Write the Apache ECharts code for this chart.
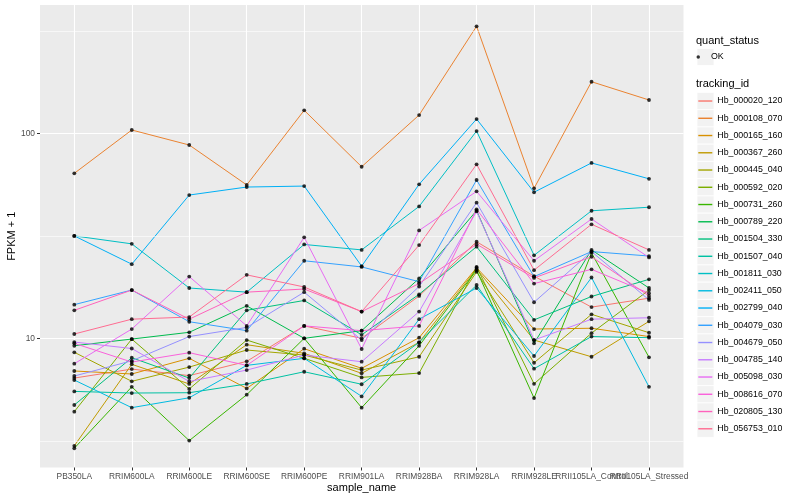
<!DOCTYPE html>
<html><head><meta charset="utf-8">
<script src="https://cdn.jsdelivr.net/npm/echarts@6/dist/echarts.min.js"></script>
<style>html,body{margin:0;padding:0;background:#fff}#c{width:800px;height:500px}</style>
</head><body><div id="c"></div>
<script>
const sampleNames = ['PB350LA','RRIM600LA','RRIM600LE','RRIM600SE','RRIM600PE','RRIM901LA','RRIM928BA','RRIM928LA','RRIM928LE','RRII105LA_Control','RRII105LA_Stressed'];
const trackingIds = ['Hb_000020_120','Hb_000108_070','Hb_000165_160','Hb_000367_260','Hb_000445_040','Hb_000592_020','Hb_000731_260','Hb_000789_220','Hb_001504_330','Hb_001507_040','Hb_001811_030','Hb_002411_050','Hb_002799_040','Hb_004079_030','Hb_004679_050','Hb_004785_140','Hb_005098_030','Hb_008616_070','Hb_020805_130','Hb_056753_010'];
const trackingColors = ['#F8766D','#EA8331','#D89000','#C09B00','#A3A500','#7CAE00','#39B600','#00BB4E','#00BF7D','#00C1A3','#00BFC4','#00BAE0','#00B0F6','#35A2FF','#9590FF','#C77CFF','#E76BF3','#FA62DB','#FF62BC','#FF6C91'];
const yTickValues = [10, 100];
const yMinorBreaks = [3.162, 31.62, 316.2];
const yRange = [2.344, 422.6];

const Hb_000020_120 = [6.40, 7.08, 6.58, 7.72, 11.5, 10.0, 16.1, 29.6, 20.1, 14.2, 15.7];
const Hb_000108_070 = [63.8, 103.8, 87.7, 56.0, 129.5, 68.7, 122.8, 332.7, 53.9, 178.5, 145.4];
const Hb_000165_160 = [6.93, 6.70, 7.99, 5.70, 8.90, 7.14, 10.07, 22.1, 11.1, 11.2, 10.2];
const Hb_000367_260 = [2.99, 7.47, 5.99, 9.31, 8.45, 6.75, 9.56, 21.8, 9.81, 8.13, 12.1];
const Hb_000445_040 = [8.55, 6.17, 7.24, 8.77, 8.29, 7.00, 8.13, 21.1, 7.60, 13.1, 10.65];
const Hb_000592_020 = [4.39, 9.92, 5.66, 9.81, 7.99, 6.45, 6.77, 22.3, 6.00, 10.6, 17.2];
const Hb_000731_260 = [2.91, 5.80, 3.17, 5.31, 10.0, 4.59, 9.20, 21.5, 5.11, 26.1, 8.08];
const Hb_000789_220 = [9.20, 9.92, 10.7, 14.4, 10.0, 10.9, 19.6, 42.0, 9.45, 27.0, 17.6];
const Hb_001504_330 = [4.73, 8.04, 6.40, 13.7, 15.3, 10.4, 16.4, 28.0, 12.3, 16.0, 19.4];
const Hb_001507_040 = [5.51, 5.41, 5.43, 5.99, 6.87, 5.97, 9.56, 18.2, 7.11, 10.2, 10.07];
const Hb_001811_030 = [31.6, 28.9, 17.6, 16.8, 28.7, 27.0, 44.0, 102.6, 25.4, 41.9, 43.6];
const Hb_002411_050 = [6.26, 4.59, 5.13, 7.38, 7.99, 5.21, 12.4, 17.6, 8.20, 19.8, 5.80];
const Hb_002799_040 = [31.6, 23.0, 50.0, 54.7, 55.3, 22.5, 56.4, 117.4, 51.6, 71.7, 60.0];
const Hb_004079_030 = [14.6, 17.2, 12.05, 10.9, 23.9, 22.3, 18.9, 59.2, 20.0, 26.5, 25.2];
const Hb_004679_050 = [6.55, 7.77, 10.2, 11.3, 16.8, 9.81, 17.9, 45.9, 15.0, 26.5, 15.4];
const Hb_004785_140 = [9.59, 8.92, 6.16, 7.00, 8.29, 7.69, 13.5, 41.6, 9.81, 12.4, 12.6];
const Hb_005098_030 = [7.52, 11.1, 20.0, 11.5, 31.1, 8.87, 33.6, 52.1, 23.9, 38.2, 24.8];
const Hb_008616_070 = [9.45, 7.66, 8.51, 7.38, 11.5, 10.9, 11.5, 42.6, 18.5, 21.7, 16.6];
const Hb_020805_130 = [13.7, 17.2, 12.4, 16.8, 17.4, 13.5, 18.5, 28.8, 19.7, 25.0, 16.1];
const Hb_056753_010 = [10.5, 12.4, 12.7, 20.4, 17.8, 13.5, 28.5, 70.6, 21.5, 36.0, 27.0];

const seriesValues = [Hb_000020_120, Hb_000108_070, Hb_000165_160, Hb_000367_260, Hb_000445_040, Hb_000592_020, Hb_000731_260, Hb_000789_220, Hb_001504_330, Hb_001507_040, Hb_001811_030, Hb_002411_050, Hb_002799_040, Hb_004079_030, Hb_004679_050, Hb_004785_140, Hb_005098_030, Hb_008616_070, Hb_020805_130, Hb_056753_010];

const FONT = '"Liberation Sans", Arial, Helvetica, sans-serif';
const chart = echarts.init(document.getElementById('c'), null, {renderer: 'canvas'});

const lineSeries = trackingIds.map((id, i) => ({
  name: id, type: 'line', xAxisIndex: 1, yAxisIndex: 1,
  data: seriesValues[i].map((v, j) => [j, v]),
  symbol: 'none', showSymbol: false,
  lineStyle: {width: 1, color: trackingColors[i]},
  itemStyle: {color: trackingColors[i]},
  z: 3, silent: true, animation: false
}));
const okPoints = [];
seriesValues.forEach(arr => arr.forEach((v, j) => okPoints.push([j, v])));
// labels split over two axes so that overlapping neighbours both stay visible
const xLabelsEven = sampleNames.map((n, i) => i).filter(i => i % 2 === 0);
const xLabelsOdd = sampleNames.map((n, i) => i).filter(i => i % 2 === 1);

const keyBoxes = [{type: 'rect', shape: {x: 697, y: 48.5, width: 17, height: 17}, style: {fill: '#F2F2F2', stroke: '#fff', lineWidth: 0.8}, z: 1}];
trackingIds.forEach((id, i) => keyBoxes.push({type: 'rect', shape: {x: 697, y: 92.4 + i * 17.25, width: 17, height: 17.25}, style: {fill: '#F2F2F2', stroke: '#fff', lineWidth: 0.8}, z: 1}));

const xLabelStyle = {show: true, margin: 5, fontSize: 8.4, color: '#4D4D4D', fontFamily: FONT, showMinLabel: true, showMaxLabel: true,
  hideOverlap: false, formatter: v => sampleNames[Math.round(v)] || ''};

const option = {
  backgroundColor: '#fff',
  animation: false,
  color: trackingColors,
  textStyle: {fontFamily: FONT},
  title: [
    {text: 'quant_status', left: 696, top: 34.2, padding: 0, textStyle: {fontSize: 11, fontWeight: 'normal', color: '#000', fontFamily: FONT, lineHeight: 13}},
    {text: 'tracking_id', left: 696, top: 77.8, padding: 0, textStyle: {fontSize: 11, fontWeight: 'normal', color: '#000', fontFamily: FONT, lineHeight: 13}}
  ],
  graphic: keyBoxes,
  legend: [
    {data: ['OK'], orient: 'vertical', left: 696.5, top: 48.5, padding: 0, itemWidth: 15.5, itemHeight: 3.5, icon: 'circle', selectedMode: false, z: 5,
     textStyle: {fontSize: 8.8, color: '#000', fontFamily: FONT, lineHeight: 17}},
    {data: trackingIds, orient: 'vertical', left: 698.3, top: 92.4, padding: 0, itemGap: 0, itemWidth: 14, itemHeight: 17.25,
     icon: 'path://M0,0H14V1.4H0Z', selectedMode: false, z: 5,
     textStyle: {fontSize: 8.8, color: '#000', fontFamily: FONT, lineHeight: 17.25}}
  ],
  grid: [
    {left: 40, right: 116.5, top: 5, bottom: 32.5, show: true, backgroundColor: '#EBEBEB', borderWidth: 0, containLabel: false, outerBoundsMode: 'none'},
    {left: 74.3, right: 151, top: 5, bottom: 32.5, show: false, containLabel: false, outerBoundsMode: 'none'}
  ],
  xAxis: [
    {gridIndex: 0, type: 'value', min: 0, max: 1, show: false},
    {gridIndex: 1, type: 'value', min: 0, max: sampleNames.length - 1, interval: 1,
     name: 'sample_name', nameLocation: 'middle', nameGap: 15, nameMoveOverlap: false,
     nameTextStyle: {fontSize: 11, color: '#000', fontFamily: FONT},
     axisLine: {show: false},
     axisTick: {show: true, length: 3, lineStyle: {color: '#333', width: 1}},
     axisLabel: Object.assign({customValues: xLabelsEven}, xLabelStyle),
     splitLine: {show: true, lineStyle: {color: '#fff', width: 1.1}}},
    {gridIndex: 1, type: 'value', min: 0, max: sampleNames.length - 1, interval: 1, position: 'bottom',
     axisLine: {show: false}, axisTick: {show: false}, splitLine: {show: false},
     axisLabel: Object.assign({customValues: xLabelsOdd}, xLabelStyle)}
  ],
  yAxis: [
    {gridIndex: 0, type: 'log', min: yRange[0], max: yRange[1],
     name: 'FPKM + 1', nameLocation: 'middle', nameGap: 23, nameRotate: 90, nameMoveOverlap: false,
     nameTextStyle: {fontSize: 11, color: '#000', fontFamily: FONT},
     axisLine: {show: false},
     axisTick: {show: true, length: 3, lineStyle: {color: '#333', width: 1}, customValues: yTickValues},
     axisLabel: {show: true, margin: 5, fontSize: 8.4, color: '#4D4D4D', fontFamily: FONT, customValues: yTickValues,
       hideOverlap: false, formatter: v => String(Math.round(v))},
     splitLine: {show: true, lineStyle: {color: '#fff', width: 1.1}}},
    {gridIndex: 1, type: 'log', min: yRange[0], max: yRange[1], show: false,
     axisLine: {show: false}, axisTick: {show: false}, axisLabel: {show: false}, splitLine: {show: false}}
  ],
  series: [
    {name: 'minor', type: 'line', xAxisIndex: 0, yAxisIndex: 0, data: [], z: 1, silent: true, animation: false,
     markLine: {silent: true, symbol: ['none', 'none'], label: {show: false}, animation: false,
       lineStyle: {color: '#fff', width: 0.6, type: 'solid'},
       emphasis: {disabled: true},
       data: yMinorBreaks.map(v => ({yAxis: v}))}}
  ].concat(lineSeries).concat([
    {name: 'OK', type: 'scatter', xAxisIndex: 1, yAxisIndex: 1, data: okPoints, symbol: 'circle', symbolSize: 3.8,
     itemStyle: {color: '#000'}, z: 6, silent: true, animation: false}
  ])
};
chart.setOption(option);
</script>
</body></html>
